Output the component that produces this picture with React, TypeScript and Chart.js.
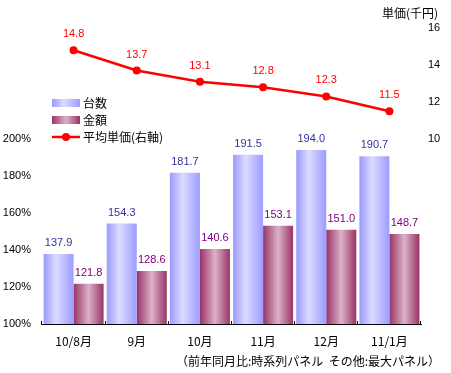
import React, { useEffect, useRef } from 'react';
import { Chart, registerables } from 'chart.js';

Chart.register(...registerables);

// ---- data ----
const categories = ['10/8月', '9月', '10月', '11月', '12月', '11/1月'];
const unitRatio = [137.9, 154.3, 181.7, 191.5, 194.0, 190.7];
const amountRatio = [121.8, 128.6, 140.6, 153.1, 151.0, 148.7];
const avgPrice = [14.8, 13.7, 13.1, 12.8, 12.3, 11.5];
const leftTicks = [100, 120, 140, 160, 180, 200];
const rightTicks = [10, 12, 14, 16];
const seriesNames = ['台数', '金額', '平均単価(右軸)'];
const rightAxisTitle = '単価(千円)';
const footnote = '（前年同月比:時系列パネル  その他:最大パネル）';

// ---- styles ----
const NUM_FONT_FAMILY = '"Liberation Sans", "Noto Sans CJK JP", sans-serif';
const JP_FONT_FAMILY = '"Noto Sans CJK JP", "Liberation Sans", sans-serif';
const BLUE_STOPS: [number, string][] = [
  [0, '#9999ff'],
  [0.42, '#dcdcff'],
  [1, '#9c9cff'],
];
const WINE_STOPS: [number, string][] = [
  [0, '#993366'],
  [0.5, '#dcb2c8'],
  [1, '#993366'],
];
const CAT_PCT = 0.95;

function grad(ctx: CanvasRenderingContext2D, x0: number, x1: number, stops: [number, string][]) {
  const g = ctx.createLinearGradient(x0, 0, x1, 0);
  stops.forEach(([o, c]) => g.addColorStop(o, c));
  return g;
}

function barFill(which: 0 | 1, stops: [number, string][], fallback: string) {
  return (c: any) => {
    const chart = c.chart;
    const xs = chart.scales?.x;
    if (!chart.chartArea || !xs) return fallback;
    const center = xs.getPixelForValue(c.dataIndex);
    const catW = (xs.right - xs.left) / categories.length;
    const barW = (catW * CAT_PCT) / 2;
    const x0 = which === 0 ? center - barW : center;
    return grad(chart.ctx, x0, x0 + barW, stops);
  };
}

const labelColors = ['#333399', '#800080', '#ff0000'];

const valueLabelPlugin = {
  id: 'valueLabels',
  afterDatasetsDraw(chart: any) {
    const ctx = chart.ctx;
    ctx.save();
    ctx.font = `11px ${NUM_FONT_FAMILY}`;
    ctx.textAlign = 'center';
    ctx.textBaseline = 'middle';
    chart.data.datasets.forEach((ds: any, di: number) => {
      const meta = chart.getDatasetMeta(di);
      ctx.fillStyle = labelColors[di];
      const off = ds.type === 'line' ? 16 : 11;
      meta.data.forEach((el: any, i: number) => {
        ctx.fillText(Number(ds.data[i]).toFixed(1), el.x, el.y - off);
      });
    });
    ctx.restore();
  },
};

const extrasPlugin = {
  id: 'extras',
  afterDraw(chart: any) {
    const ctx = chart.ctx;
    ctx.save();
    ctx.fillStyle = '#000';
    ctx.textBaseline = 'middle';
    ctx.font = `12px ${JP_FONT_FAMILY}`;
    // right axis title
    ctx.textAlign = 'right';
    ctx.fillText(rightAxisTitle, 438, 13);
    // footnote
    ctx.fillText(footnote, 440, 361);
    // legend
    const lx = 52;
    const lw = 28;
    const rows = [103, 120, 137];
    const stops = [BLUE_STOPS, WINE_STOPS];
    for (let i = 0; i < 2; i++) {
      ctx.fillStyle = grad(ctx, lx, lx + lw, stops[i]);
      ctx.fillRect(lx, rows[i] - 4, lw, 8);
    }
    ctx.strokeStyle = '#ff0000';
    ctx.lineWidth = 2.5;
    ctx.beginPath();
    ctx.moveTo(lx, rows[2]);
    ctx.lineTo(lx + lw, rows[2]);
    ctx.stroke();
    ctx.fillStyle = '#ff0000';
    ctx.beginPath();
    ctx.arc(lx + lw / 2, rows[2], 4, 0, Math.PI * 2);
    ctx.fill();
    ctx.fillStyle = '#000';
    ctx.textAlign = 'left';
    seriesNames.forEach((n, i) => ctx.fillText(n, 83, rows[i]));
    ctx.restore();
  },
};

export default function App() {
  const ref = useRef<HTMLCanvasElement>(null);
  useEffect(() => {
    if (!ref.current) return;
    const chart = new Chart(ref.current, {
      type: 'bar',
      data: {
        labels: categories,
        datasets: [
          {
            type: 'bar',
            label: seriesNames[0],
            data: unitRatio,
            yAxisID: 'y',
            backgroundColor: barFill(0, BLUE_STOPS, '#b0b0ff'),
            borderWidth: 0,
            order: 1,
          } as any,
          {
            type: 'bar',
            label: seriesNames[1],
            data: amountRatio,
            yAxisID: 'y',
            backgroundColor: barFill(1, WINE_STOPS, '#b06688'),
            borderWidth: 0,
            order: 1,
          } as any,
          {
            type: 'line',
            label: seriesNames[2],
            data: avgPrice,
            yAxisID: 'y2',
            borderColor: '#ff0000',
            backgroundColor: '#ff0000',
            borderWidth: 2.5,
            pointRadius: 4,
            pointBackgroundColor: '#ff0000',
            pointBorderColor: '#ff0000',
            pointBorderWidth: 0,
            tension: 0,
            order: 0,
          } as any,
        ],
      },
      options: {
        responsive: false,
        animation: false,
        devicePixelRatio: 1,
        layout: { padding: { top: 28, left: 0, right: 0, bottom: 0 } },
        datasets: {
          bar: { categoryPercentage: CAT_PCT, barPercentage: 1 },
        },
        plugins: {
          legend: { display: false },
          tooltip: { enabled: false },
          title: { display: false },
        },
        scales: {
          x: {
            type: 'category',
            offset: true,
            grid: {
              offset: true,
              drawOnChartArea: false,
              drawTicks: true,
              tickLength: -3,
              color: '#000',
              lineWidth: 1,
            },
            border: { display: true, color: '#000', width: 1 },
            ticks: {
              color: '#000',
              font: { family: JP_FONT_FAMILY, size: 12 },
              padding: 13,
              maxRotation: 0,
              autoSkip: false,
            },
            afterFit: (s: any) => {
              s.height = 49;
            },
          },
          y: {
            position: 'left',
            min: 100,
            max: 260,
            grid: { display: false, drawTicks: false },
            border: { display: false },
            ticks: {
              stepSize: 20,
              color: '#000',
              padding: 11,
              font: { family: NUM_FONT_FAMILY, size: 11 },
              callback: (v: any) => (leftTicks.includes(Number(v)) ? `${v}%` : ''),
            },
            afterFit: (s: any) => {
              s.width = 42;
            },
          },
          y2: {
            position: 'right',
            min: 0,
            max: 16,
            grid: { display: false, drawTicks: false },
            border: { display: false },
            ticks: {
              stepSize: 2,
              color: '#000',
              padding: 7,
              font: { family: NUM_FONT_FAMILY, size: 11 },
              callback: (v: any) => (rightTicks.includes(Number(v)) ? `${v}` : ''),
            },
            afterFit: (s: any) => {
              s.width = 30;
            },
          },
        },
      },
      plugins: [valueLabelPlugin, extrasPlugin],
    });
    return () => chart.destroy();
  }, []);

  return (
    <div style={{ position: 'absolute', left: 0, top: 0, width: 451, height: 373, background: '#fff' }}>
      <canvas ref={ref} width={451} height={373} style={{ display: 'block' }} />
    </div>
  );
}
